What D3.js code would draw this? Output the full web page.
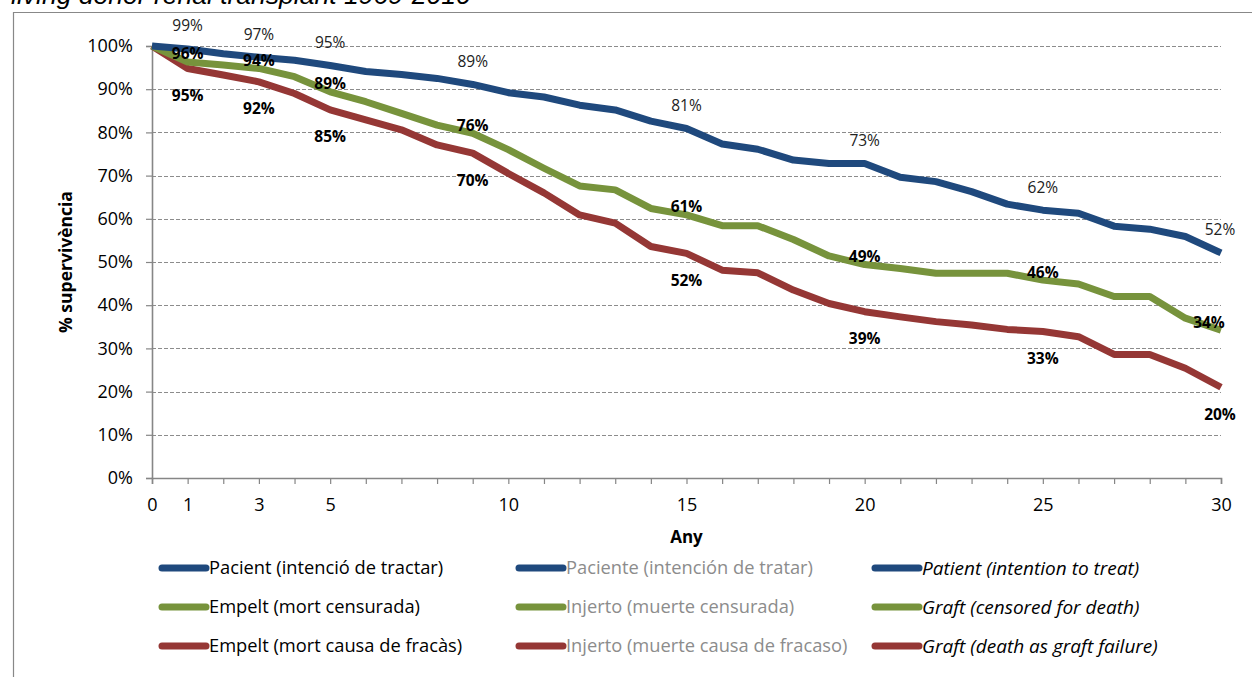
<!DOCTYPE html>
<html><head><meta charset="utf-8">
<script src="https://cdn.jsdelivr.net/npm/d3@7"></script>
<style>
html,body{margin:0;padding:0;background:#fff;}
svg{display:block;}
</style></head>
<body>
<svg id="chart" width="1252" height="677"></svg>
<script>
// ---- data ----
const years = [0,1,2,3,4,5,6,7,8,9,10,11,12,13,14,15,16,17,18,19,20,21,22,23,24,25,26,27,28,29,30];
const patient = [100,99.3,98.2,97.4,96.7,95.5,94.1,93.4,92.5,91.1,89.2,88.2,86.3,85.2,82.6,80.9,77.3,76.1,73.6,72.8,72.8,69.6,68.6,66.3,63.4,62.0,61.3,58.3,57.6,55.9,52.1];
const graftCensored = [100,96.3,95.6,94.8,92.9,89.4,87.1,84.4,81.7,79.8,76.0,71.7,67.6,66.7,62.4,60.9,58.4,58.4,55.2,51.4,49.4,48.5,47.4,47.4,47.4,45.8,44.9,42.0,42.0,37.0,34.2];
const graftDeath = [100,94.8,93.3,91.7,89.0,85.2,82.9,80.6,77.1,75.2,70.5,66.0,60.9,59.0,53.6,52.0,48.1,47.5,43.5,40.4,38.5,37.3,36.2,35.4,34.4,33.9,32.7,28.6,28.6,25.4,21.0];
const labelYears = [1,3,5,9,15,20,25,30];
const patientLabels = ["99%","97%","95%","89%","81%","73%","62%","52%"];
const censoredLabels = ["96%","94%","89%","76%","61%","49%","46%","34%"];
const deathLabels = ["95%","92%","85%","70%","52%","39%","33%","20%"];
const yTicks = [0,10,20,30,40,50,60,70,80,90,100];
const xTickLabels = [0,1,3,5,10,15,20,25,30];
const legendCatalan = ["Pacient (intenció de tractar)","Empelt (mort censurada)","Empelt (mort causa de fracàs)"];
const legendSpanish = ["Paciente (intención de tratar)","Injerto (muerte censurada)","Injerto (muerte causa de fracaso)"];
const legendEnglish = ["Patient (intention to treat)","Graft (censored for death)","Graft (death as graft failure)"];
const titleText = "living donor renal transplant 1969-2010";
const xTitle = "Any";
const yTitle = "% supervivència";

// ---- styles ----
const colors = ["#1F497D","#77933C","#953735"];
const FONT = "'Open Sans', 'Noto Sans', sans-serif";
const svg = d3.select("#chart");

const x = d3.scaleLinear().domain([0,30]).range([152,1221]);
const y = d3.scaleLinear().domain([0,100]).range([478,46]);

// frame
svg.append("path").attr("d","M13.5,677 L13.5,12.5 L1252,12.5")
  .attr("fill","none").attr("stroke","#888").attr("stroke-width",1.2);

// title (partly cut off at top)
svg.append("text").attr("x",11).attr("y",4)
  .attr("font-family","'Liberation Sans', Arial, sans-serif")
  .attr("font-style","italic").attr("font-size",26.5)
  .attr("fill","#000").text(titleText);

// gridlines
svg.append("g").selectAll("line").data(yTicks.filter(d=>d>0)).join("line")
  .attr("x1",x(0)).attr("x2",x(30))
  .attr("y1",d=>Math.round(y(d))+0.5).attr("y2",d=>Math.round(y(d))+0.5)
  .attr("stroke","#8c8c8c").attr("stroke-width",1).attr("stroke-dasharray","4,2");

// y axis
const yAxis = d3.axisLeft(y).tickValues(yTicks).tickSize(6).tickFormat(d=>d+"%");
const gy = svg.append("g").attr("transform",`translate(${x(0)},0)`).call(yAxis);
gy.select(".domain").attr("stroke","#868686").attr("stroke-width",1.6);
gy.selectAll(".tick line").attr("stroke","#868686").attr("stroke-width",1.2);
gy.selectAll(".tick text").attr("font-family",FONT).attr("font-size",18).attr("fill","#000")
  .attr("x",-19);

// x axis
const xAxis = d3.axisBottom(x).tickValues(years).tickSize(6).tickPadding(14)
  .tickFormat(d=>xTickLabels.includes(d)?String(d):"");
const gx = svg.append("g").attr("transform",`translate(0,${y(0)})`).call(xAxis);
gx.select(".domain").attr("stroke","#868686").attr("stroke-width",1.6);
gx.selectAll(".tick line").attr("stroke","#868686").attr("stroke-width",1.2);
gx.selectAll(".tick text").attr("font-family",FONT).attr("font-size",18).attr("fill","#000");

// axis titles
svg.append("text").attr("x",(x(0)+x(30))/2).attr("y",543).attr("text-anchor","middle")
  .attr("font-family",FONT).attr("font-weight","bold").attr("font-size",17).text(xTitle);
svg.append("text").attr("transform",`translate(72,${(y(0)+y(100))/2}) rotate(-90)`)
  .attr("text-anchor","middle").attr("font-family",FONT).attr("font-weight","bold")
  .attr("font-size",17.5).text(yTitle);

// lines
const series = [patient, graftCensored, graftDeath];
const line = d3.line().x((d,i)=>x(years[i])).y(d=>y(d));
svg.append("g").selectAll("path").data([graftDeath, graftCensored, patient]).join("path")
  .attr("d",line).attr("fill","none")
  .attr("stroke",(d)=>colors[series.indexOf(d)])
  .attr("stroke-width",7).attr("stroke-linejoin","round").attr("stroke-linecap","butt");

// data labels
const labelSets = [
  {vals: patient, texts: patientLabels, dy: -23, weight: "normal", fill:"#222"},
  {vals: graftCensored, texts: censoredLabels, dy: -8, weight: "bold", fill:"#000"},
  {vals: graftDeath, texts: deathLabels, dy: 27, weight: "bold", fill:"#000"}
];
labelSets.forEach(s=>{
  svg.append("g").selectAll("text").data(labelYears).join("text")
    .attr("x",(d)=>Math.min(x(d), x(30)-1) - (s.weight==="bold" && d===30 && s.dy<0 ? 11 : 0))
    .attr("y",(d)=>y(s.vals[years.indexOf(d)]) + s.dy)
    .attr("dy","0.35em").attr("text-anchor","middle")
    .attr("font-family",FONT).attr("font-size",15.5).attr("font-weight",s.weight)
    .attr("fill",s.fill)
    .text((d,i)=>s.texts[i]);
});

// legend
const legendCols = [
  {texts: legendCatalan, x0: 162, fill:"#000", style:"normal", size:18.3},
  {texts: legendSpanish, x0: 519, fill:"#8c8c8c", style:"normal", size:18.3},
  {texts: legendEnglish, x0: 875, fill:"#000", style:"italic", size:19}
];
const rowY = [568,607,646];
legendCols.forEach(c=>{
  const g = svg.append("g");
  c.texts.forEach((t,i)=>{
    g.append("line").attr("x1",c.x0).attr("x2",c.x0+44).attr("y1",rowY[i]).attr("y2",rowY[i])
      .attr("stroke",colors[i]).attr("stroke-width",7).attr("stroke-linecap","round");
    g.append("text").attr("x",c.x0+47).attr("y",rowY[i]).attr("dy","0.35em")
      .attr("font-family",FONT).attr("font-size",c.size).attr("font-style",c.style)
      .attr("fill",c.fill).text(t);
  });
});
</script>
</body></html>
